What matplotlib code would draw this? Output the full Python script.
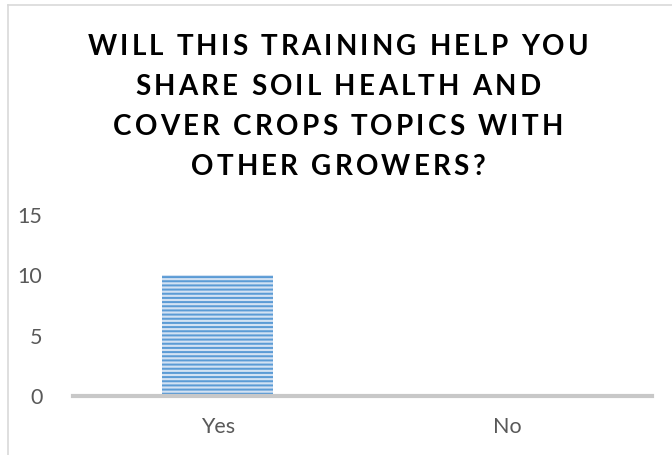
import matplotlib
matplotlib.use("Agg")
import matplotlib.pyplot as plt
from matplotlib.lines import Line2D
from matplotlib.font_manager import FontProperties

categories = ["Yes", "No"]
counts = [10, 0]
y_ticks = [0, 5, 10, 15]
title_lines = ["WILL THIS TRAINING HELP YOU",
               "SHARE SOIL HEALTH AND",
               "COVER CROPS TOPICS WITH",
               "OTHER GROWERS?"]

plt.rcParams["font.family"] = ["Lato", "DejaVu Sans"]
plt.rcParams["hatch.linewidth"] = 1.45

W, H, DPI = 672, 455, 100
fig = plt.figure(figsize=(W / DPI, H / DPI), dpi=DPI)
rend = fig.canvas.get_renderer()

# axes box in pixels: x 73..652, y(0)=396, y(15)=215
ax = fig.add_axes([73 / W, (H - 396) / H, 579 / W, (396 - 215) / H])
ax.bar(range(len(categories)), counts, width=0.385, color="#d3e2f3",
       edgecolor="#5b9bd5", linewidth=0, hatch="----", zorder=2)
ax.set_xlim(-0.5, len(categories) - 0.5)
ax.set_ylim(0, 15)
ax.set_yticks(y_ticks)
ax.set_xticks(range(len(categories)))
ax.set_xticklabels(categories)
ax.tick_params(axis="both", length=0, labelsize=15.5, colors="#595959")
ax.tick_params(axis="y", pad=22)
ax.tick_params(axis="x", pad=15)
for s in ["top", "right", "left"]:
    ax.spines[s].set_visible(False)
ax.spines["bottom"].set_color("#c8c8c8")
ax.spines["bottom"].set_linewidth(3)
ax.spines["bottom"].set_zorder(3)

# title with letter spacing, drawn one char at a time
size = 20
prop = FontProperties(family="Lato", weight="bold", size=size)


def tw(s):
    return rend.get_text_width_height_descent(s, prop, ismath=False)[0]


spacing = 3.2
baselines = [55, 95, 135, 175]
for line, yb in zip(title_lines, baselines):
    adv = [tw("H" + c + "H") - tw("HH") for c in line]
    total = sum(adv) + spacing * (len(line) - 1)
    x = 338 - total / 2
    for c, a in zip(line, adv):
        if c != " ":
            fig.text((x + a / 2) / W, 1 - yb / H, c, fontproperties=prop,
                     ha="center", va="baseline", color="black")
        x += a + spacing

# chart frame (cropped on right/bottom)
fig.add_artist(Line2D([8 / W, 1], [1 - 5 / H, 1 - 5 / H], color="#d9d9d9", lw=1.2))
fig.add_artist(Line2D([8 / W, 8 / W], [0, 1 - 5 / H], color="#d9d9d9", lw=1.2))

fig.savefig("out.png", dpi=DPI)
